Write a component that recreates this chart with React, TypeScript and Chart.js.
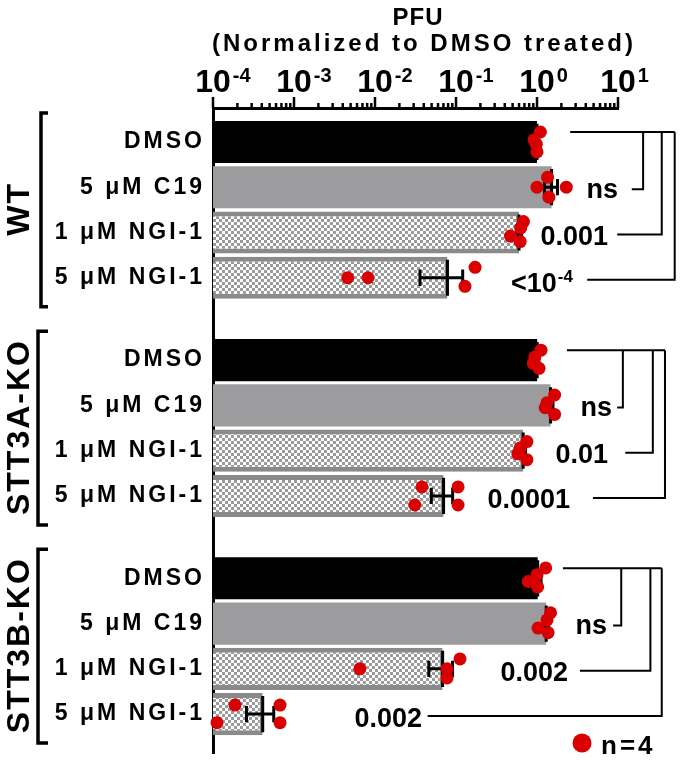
import React, { useEffect, useRef } from 'react';
import { Chart, registerables } from 'chart.js';

Chart.register(...registerables);

// ---------- data ----------
const GROUPS = ['WT', 'STT3A-KO', 'STT3B-KO'];
const TREATMENTS = ['DMSO', '5 \u03BCM C19', '1 \u03BCM NGI-1', '5 \u03BCM NGI-1'];
const ROW_POS = [0, 1, 2, 3, 4.82, 5.82, 6.82, 7.82, 9.64, 10.64, 11.64, 12.64];
const X_TICK_EXPONENTS = [-4, -3, -2, -1, 0, 1];
const MINOR_STEPS = [2, 3, 4, 5, 6, 7, 8, 9];

// replicate values (PFU normalized to DMSO), per treatment
const WT_VALUES = [
  [1.1, 0.92, 0.98, 1.0],
  [1.35, 1.0, 2.3, 1.4],
  [0.68, 0.63, 0.47, 0.62],
  [0.172, 0.0046, 0.0082, 0.129],
];
const STT3A_VALUES = [
  [1.12, 0.94, 0.9, 1.06],
  [1.65, 1.33, 1.26, 1.65],
  [0.75, 0.62, 0.58, 0.75],
  [0.038, 0.106, 0.031, 0.106],
];
const STT3B_VALUES = [
  [1.28, 1.0, 0.78, 1.02],
  [1.47, 1.33, 1.03, 1.37],
  [0.112, 0.0065, 0.0775, 0.0775],
  [0.000187, 0.000672, 0.000112, 0.000672],
];
// vertical scatter of the dots inside each bar (in row units)
const WT_JITTER = [
  [-0.22, -0.05, 0.05, 0.22],
  [-0.22, 0, 0, 0.22],
  [-0.24, -0.1, 0.08, 0.2],
  [-0.23, 0, 0, 0.19],
];
const STT3A_JITTER = [
  [-0.22, -0.07, 0.07, 0.18],
  [-0.23, -0.06, 0.05, 0.2],
  [-0.2, -0.06, 0.07, 0.2],
  [-0.2, -0.2, 0.2, 0.2],
];
const STT3B_JITTER = [
  [-0.23, -0.08, 0.07, 0.19],
  [-0.24, -0.08, 0.1, 0.2],
  [-0.22, 0, 0, 0.2],
  [-0.2, -0.2, 0.19, 0.19],
];

const P_LABELS = [
  ['ns', '0.001', '<10^-4'],
  ['ns', '0.01', '0.0001'],
  ['ns', '0.002', '0.002'],
];
// bracket geometry in log10(x) units
const BRACKETS = [
  { start: 0.41, verticals: [1.31, 1.54, 1.7], ends: [1.17, 0.99, 0.62], labelRight: [1.0, 0.877, 0.444] },
  { start: 0.37, verticals: [1.06, 1.43, 1.58], ends: [0.99, 1.09, 0.69], labelRight: [0.926, 0.877, 0.407] },
  { start: 0.32, verticals: [1.04, 1.4, 1.54], ends: [0.94, 0.53, -1.35], labelRight: [0.864, 0.383, -1.42] },
];

const ALL_VALUES = [...WT_VALUES, ...STT3A_VALUES, ...STT3B_VALUES];
const ALL_JITTER = [...WT_JITTER, ...STT3A_JITTER, ...STT3B_JITTER];

const FONT = '"Liberation Sans", Arial, Helvetica, sans-serif';
const RED = '#d80000';

function mean(a: number[]) {
  return a.reduce((s, v) => s + v, 0) / a.length;
}
function sem(a: number[]) {
  const m = mean(a);
  const sd = Math.sqrt(a.reduce((s, v) => s + (v - m) * (v - m), 0) / (a.length - 1));
  return sd / Math.sqrt(a.length);
}

function makePattern(): CanvasPattern | string {
  const c = document.createElement('canvas');
  c.width = 6;
  c.height = 6;
  const g = c.getContext('2d');
  if (!g) return '#bbb';
  g.fillStyle = '#ffffff';
  g.fillRect(0, 0, 6, 6);
  g.fillStyle = '#9a9a9a';
  g.fillRect(0, 0, 3, 3);
  g.fillRect(3, 3, 3, 3);
  return g.createPattern(c, 'repeat') || '#bbb';
}

function setSpacing(ctx: any, v: string) {
  if ('letterSpacing' in ctx) ctx.letterSpacing = v;
}

function drawPLabel(ctx: CanvasRenderingContext2D, text: string, right: number, cy: number) {
  const [base, exp] = text.split('^');
  const bigF = `bold 27px ${FONT}`;
  const smallF = `bold 17px ${FONT}`;
  ctx.font = bigF;
  const mb = ctx.measureText(base);
  let we = 0;
  let expAsc = 0;
  if (exp) {
    ctx.font = smallF;
    const me = ctx.measureText(exp);
    we = me.width;
    expAsc = me.actualBoundingBoxAscent;
  }
  const asc = mb.actualBoundingBoxAscent;
  const desc = mb.actualBoundingBoxDescent;
  const supRaise = 10;
  const top = Math.max(asc, supRaise + expAsc);
  const baseline = cy + (top - desc) / 2;
  ctx.textAlign = 'left';
  ctx.textBaseline = 'alphabetic';
  ctx.font = bigF;
  ctx.fillText(base, right - we - mb.width - (exp ? 1 : 0), baseline);
  if (exp) {
    ctx.font = smallF;
    ctx.fillText(exp, right - we, baseline - supRaise);
  }
}

export default function App() {
  const ref = useRef<HTMLCanvasElement>(null);

  useEffect(() => {
    document.body.style.margin = '0';
    const canvas = ref.current;
    if (!canvas) return;
    const pattern = makePattern();

    const means = ALL_VALUES.map(mean);
    const sems = ALL_VALUES.map(sem);

    const annot = {
      id: 'annot',
      beforeDraw(chart: any) {
        setSpacing(chart.ctx, '3px');
      },
      beforeDatasetsDraw(chart: any) {
        setSpacing(chart.ctx, '0px');
      },
      afterDatasetDraw(chart: any, args: any) {
        if (args.index !== 0) return;
        const ctx = chart.ctx;
        const xs = chart.scales.x;
        const ys = chart.scales.y;
        const pitch = Math.abs(ys.getPixelForValue(1) - ys.getPixelForValue(0));
        ctx.save();
        ctx.strokeStyle = '#000';
        ctx.lineWidth = 3;
        ctx.lineCap = 'butt';
        ALL_VALUES.forEach((_v, i) => {
          const y = ys.getPixelForValue(ROW_POS[i]);
          const xm = xs.getPixelForValue(means[i]);
          const xl = xs.getPixelForValue(means[i] - sems[i]);
          const xr = xs.getPixelForValue(means[i] + sems[i]);
          const hm = pitch * 0.4;
          const hc = pitch * 0.18;
          ctx.beginPath();
          ctx.moveTo(xm, y - hm);
          ctx.lineTo(xm, y + hm);
          ctx.moveTo(xl, y);
          ctx.lineTo(xr, y);
          ctx.moveTo(xl, y - hc);
          ctx.lineTo(xl, y + hc);
          ctx.moveTo(xr, y - hc);
          ctx.lineTo(xr, y + hc);
          ctx.stroke();
        });
        ctx.restore();
      },
      afterDraw(chart: any) {
        const ctx: CanvasRenderingContext2D = chart.ctx;
        const xs = chart.scales.x;
        const ys = chart.scales.y;
        const ca = chart.chartArea;
        const pitch = Math.abs(ys.getPixelForValue(1) - ys.getPixelForValue(0));
        ctx.save();
        setSpacing(ctx, '0px');
        ctx.fillStyle = '#000';
        ctx.strokeStyle = '#000';

        // x axis tick marks
        ctx.lineWidth = 2.5;
        ctx.beginPath();
        X_TICK_EXPONENTS.forEach((e, idx) => {
          const x = xs.getPixelForValue(Math.pow(10, e));
          ctx.moveTo(x, ca.top);
          ctx.lineTo(x, ca.top - 11);
          if (idx < X_TICK_EXPONENTS.length - 1) {
            MINOR_STEPS.forEach((k) => {
              const xm = xs.getPixelForValue(k * Math.pow(10, e));
              ctx.moveTo(xm, ca.top);
              ctx.lineTo(xm, ca.top - 5);
            });
          }
        });
        ctx.stroke();

        // x tick labels 10^e
        ctx.textBaseline = 'alphabetic';
        X_TICK_EXPONENTS.forEach((e) => {
          const x = xs.getPixelForValue(Math.pow(10, e));
          ctx.font = `bold 32px ${FONT}`;
          ctx.textAlign = 'center';
          const w = ctx.measureText('10').width;
          ctx.fillText('10', x, ca.top - 16);
          ctx.font = `bold 20px ${FONT}`;
          ctx.textAlign = 'left';
          ctx.fillText(String(e), x + w / 2 + 2, ca.top - 26);
        });

        // axis title
        ctx.textAlign = 'center';
        ctx.font = `bold 24px ${FONT}`;
        setSpacing(ctx, '1px');
        ctx.fillText('PFU', 418, 25);
        setSpacing(ctx, '3px');
        ctx.fillText('(Normalized to DMSO treated)', 424, 51);
        setSpacing(ctx, '0px');

        // group labels and left brackets
        GROUPS.forEach((g, gi) => {
          const y0 = ys.getPixelForValue(ROW_POS[gi * 4]);
          const y3 = ys.getPixelForValue(ROW_POS[gi * 4 + 3]);
          const cy = (y0 + y3) / 2;
          ctx.save();
          ctx.translate(29, cy);
          ctx.rotate(-Math.PI / 2);
          ctx.font = `bold 32px ${FONT}`;
          setSpacing(ctx, '2px');
          ctx.textAlign = 'center';
          ctx.textBaseline = 'alphabetic';
          ctx.fillText(g, 1, 0);
          ctx.restore();
          const bx = gi === 0 ? 41 : 38;
          const top = y0 - 0.64 * pitch;
          const bot = y3 + 0.64 * pitch;
          ctx.lineWidth = 3.5;
          ctx.beginPath();
          ctx.moveTo(48, top);
          ctx.lineTo(bx, top);
          ctx.lineTo(bx, bot);
          ctx.lineTo(48, bot);
          ctx.stroke();
        });

        // significance brackets
        ctx.lineWidth = 2;
        BRACKETS.forEach((b, gi) => {
          const px = (d: number) => xs.getPixelForValue(Math.pow(10, d));
          const topY = ys.getPixelForValue(ROW_POS[gi * 4]) - 0.22 * pitch;
          ctx.beginPath();
          ctx.moveTo(px(b.start), topY);
          ctx.lineTo(px(b.verticals[2]), topY);
          for (let k = 0; k < 3; k++) {
            const y = ys.getPixelForValue(ROW_POS[gi * 4 + k + 1]) + 2;
            ctx.moveTo(px(b.verticals[k]), topY);
            ctx.lineTo(px(b.verticals[k]), y);
            ctx.lineTo(px(b.ends[k]), y);
          }
          ctx.stroke();
          for (let k = 0; k < 3; k++) {
            const y = ys.getPixelForValue(ROW_POS[gi * 4 + k + 1]) + 3;
            drawPLabel(ctx, P_LABELS[gi][k], px(b.labelRight[k]), y);
          }
        });

        // n=4 legend
        ctx.fillStyle = RED;
        ctx.beginPath();
        ctx.arc(582, 743, 9.5, 0, Math.PI * 2);
        ctx.fill();
        ctx.fillStyle = '#000';
        ctx.font = `bold 26px ${FONT}`;
        setSpacing(ctx, '3px');
        ctx.textAlign = 'left';
        ctx.textBaseline = 'alphabetic';
        ctx.fillText('n=4', 601, 754);
        setSpacing(ctx, '0px');
        ctx.restore();
      },
    };

    const kindOf = (i: number) => i % 4;

    const chart = new Chart(canvas, {
      type: 'bar',
      data: {
        datasets: [
          {
            type: 'bar',
            indexAxis: 'y',
            data: ALL_VALUES.map((_v, i) => ({ x: means[i], y: ROW_POS[i] })),
            backgroundColor: (c: any) => {
              const k = kindOf(c.dataIndex);
              return k === 0 ? '#000000' : k === 1 ? '#9c9c9e' : pattern;
            },
            borderColor: (c: any) => (kindOf(c.dataIndex) >= 2 ? '#8a8a8a' : 'rgba(0,0,0,0)'),
            borderWidth: (c: any) =>
              kindOf(c.dataIndex) >= 2 ? { top: 5, bottom: 5, right: 3, left: 0 } : 0,
            borderSkipped: false,
            barPercentage: 0.93,
            categoryPercentage: 1,
            order: 1,
          } as any,
          {
            type: 'scatter',
            data: ALL_VALUES.flatMap((vals, i) =>
              vals.map((v, j) => ({ x: v, y: ROW_POS[i] + ALL_JITTER[i][j] }))
            ),
            backgroundColor: RED,
            borderWidth: 0,
            pointRadius: 6.5,
            pointHoverRadius: 6.5,
            clip: false,
            order: 0,
          } as any,
        ],
      },
      options: {
        responsive: false,
        animation: false,
        devicePixelRatio: 1,
        layout: { padding: { top: 0, left: 0, right: 62, bottom: 6 } },
        plugins: { legend: { display: false }, tooltip: { enabled: false } },
        scales: {
          x: {
            type: 'logarithmic',
            position: 'top',
            min: 1e-4,
            max: 10,
            offset: false,
            grid: { display: false, drawTicks: false, offset: false },
            border: { display: true, width: 3, color: '#000' },
            ticks: { display: false },
            afterFit: (s: any) => {
              s.height = 108;
              s.paddingLeft = 0;
              s.paddingRight = 0;
            },
          },
          y: {
            type: 'linear',
            reverse: true,
            min: -0.75,
            max: 13.51,
            offset: false,
            afterBuildTicks: (s: any) => {
              s.ticks = ROW_POS.map((v) => ({ value: v }));
            },
            afterFit: (s: any) => {
              s.width = 213;
              s.paddingTop = 0;
              s.paddingBottom = 0;
            },
            grid: { display: false, drawTicks: false, offset: false },
            border: { display: true, width: 3, color: '#000' },
            ticks: {
              autoSkip: false,
              padding: 8,
              color: '#000',
              font: { family: FONT, size: 23, weight: 'bold' },
              callback: (_v: any, i: number) => TREATMENTS[i % 4],
            },
          },
        },
      } as any,
      plugins: [annot],
    });

    return () => chart.destroy();
  }, []);

  return (
    <canvas
      ref={ref}
      width={680}
      height={760}
      style={{ display: 'block', width: 680, height: 760 }}
    />
  );
}
